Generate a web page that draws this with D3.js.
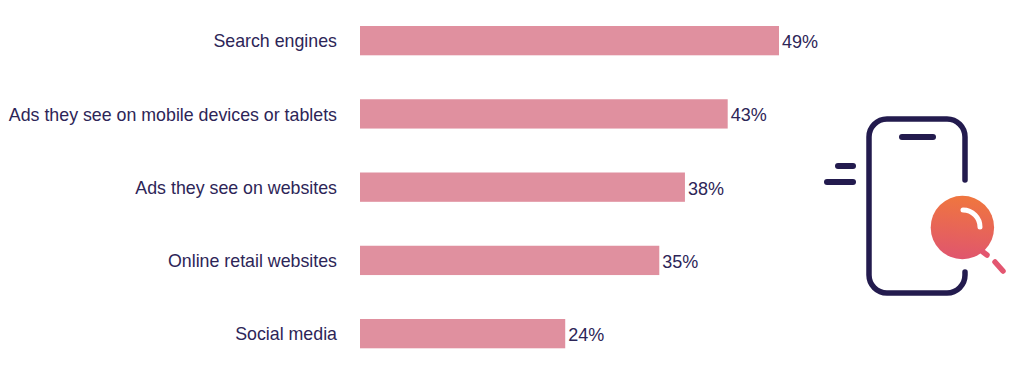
<!DOCTYPE html>
<html>
<head>
<meta charset="utf-8">
<script src="https://cdn.jsdelivr.net/npm/d3@7"></script>
<style>
  html, body { margin: 0; background: #fff; }
  text { font-family: "Liberation Sans", sans-serif; font-size: 18px; fill: #2d2557; }
  .tick text { font-size: 17.8px; }
</style>
</head>
<body>
<svg id="chart"></svg>
<script>
const categories = ["Search engines", "Ads they see on mobile devices or tablets", "Ads they see on websites", "Online retail websites", "Social media"];
const values = [49, 43, 38, 35, 24];

const width = 1024;
const height = 384;
const navy = "#231b4e";

const svg = d3.select("#chart")
  .attr("width", width)
  .attr("height", height)
  .style("display", "block");

// 49% runs from x=360 to x=779 in the picture
const x = d3.scaleLinear().domain([0, 49]).range([360, 779]);
const y = d3.scaleBand().domain(categories).range([26, 348.3]).paddingInner(0.6).paddingOuter(0);

svg.selectAll(".bar")
  .data(values)
  .enter()
  .append("rect")
    .attr("class", "bar")
    .attr("x", x(0))
    .attr("y", (d, i) => y(categories[i]))
    .attr("width", (d) => x(d) - x(0))
    .attr("height", y.bandwidth())
    .attr("fill", "#e0909f");

// category labels
const yAxis = svg.append("g")
  .attr("transform", `translate(${x(0) - 23}, 1)`)
  .call(d3.axisLeft(y).tickSize(0).tickPadding(0));
yAxis.select(".domain").remove();
yAxis.selectAll("text").attr("dy", "0.32em");
yAxis.attr("font-size", null).attr("font-family", null);

// value labels
svg.selectAll(".value")
  .data(values)
  .enter()
  .append("text")
    .attr("class", "value")
    .attr("x", (d) => x(d) + 3)
    .attr("y", (d, i) => y(categories[i]) + y.bandwidth() / 2 + 1)
    .attr("dy", "0.36em")
    .text((d) => d + "%");

// phone + magnifier icon
const grad = svg.append("defs").append("linearGradient")
  .attr("id", "lens")
  .attr("x1", 0.1).attr("y1", 0).attr("x2", 0).attr("y2", 1);
grad.append("stop").attr("offset", "0%").attr("stop-color", "#ef7540");
grad.append("stop").attr("offset", "100%").attr("stop-color", "#df5470");

const icon = svg.append("g").attr("fill", "none").attr("stroke-linecap", "round");

const phone = d3.path();
phone.moveTo(965, 180);
phone.lineTo(965, 137);
phone.arcTo(965, 119, 947, 119, 18);
phone.lineTo(887, 119);
phone.arcTo(869, 119, 869, 137, 18);
phone.lineTo(869, 275);
phone.arcTo(869, 293, 887, 293, 18);
phone.lineTo(947, 293);
phone.arcTo(965, 293, 965, 275, 18);
phone.lineTo(965, 272);
icon.append("path").attr("d", phone.toString()).attr("stroke", navy).attr("stroke-width", 5.5);

const strokes = [
  [902, 137, 933, 137],
  [838, 166, 853, 166],
  [827, 182, 853, 182]
];
icon.selectAll(".dash")
  .data(strokes)
  .enter()
  .append("line")
    .attr("class", "dash")
    .attr("x1", (d) => d[0]).attr("y1", (d) => d[1])
    .attr("x2", (d) => d[2]).attr("y2", (d) => d[3])
    .attr("stroke", navy)
    .attr("stroke-width", 6);

icon.append("circle").attr("cx", 962.4).attr("cy", 227.5).attr("r", 31.7).attr("fill", "url(#lens)");
icon.append("path").attr("d", "M963,210 A17,17 0 0 1 980,227").attr("stroke", "#fff").attr("stroke-width", 5);

icon.selectAll(".handle")
  .data([[983, 252, 987, 255], [995, 262, 1003, 271]])
  .enter()
  .append("line")
    .attr("class", "handle")
    .attr("x1", (d) => d[0]).attr("y1", (d) => d[1])
    .attr("x2", (d) => d[2]).attr("y2", (d) => d[3])
    .attr("stroke", "#e35670")
    .attr("stroke-width", 5.5);
</script>
</body>
</html>
